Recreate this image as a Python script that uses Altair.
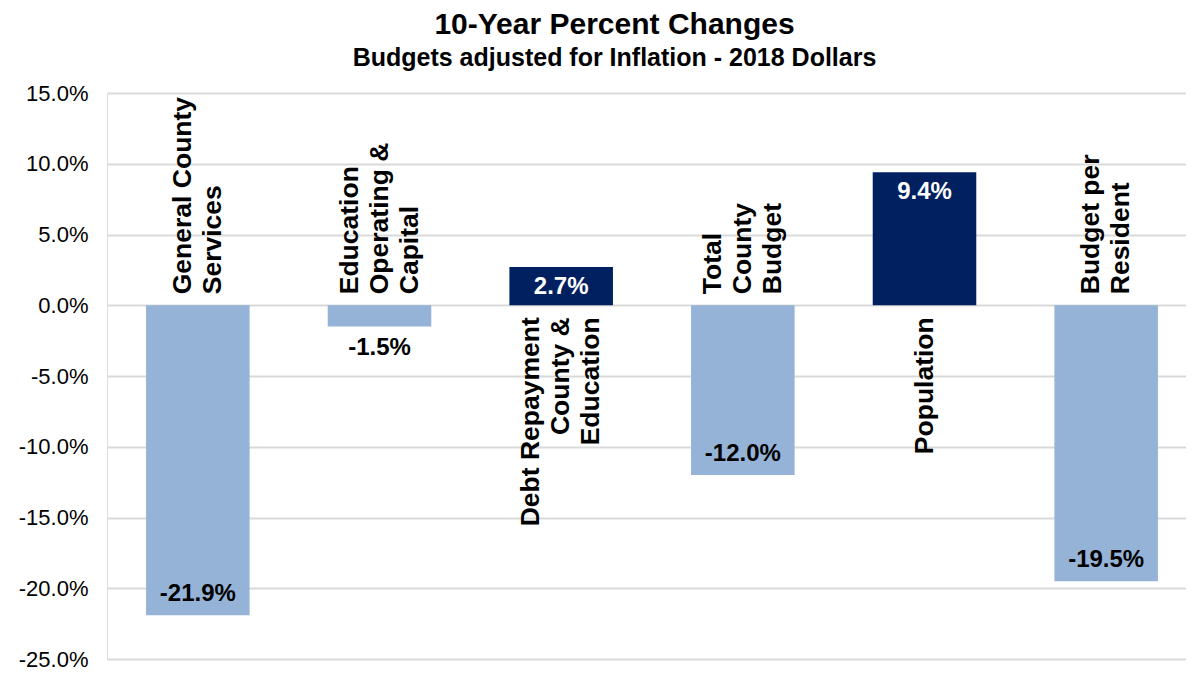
import altair as alt
import pandas as pd

categories = [
    "General County Services",
    "Education Operating & Capital",
    "Debt Repayment County & Education",
    "Total County Budget",
    "Population",
    "Budget per Resident",
]
category_lines = [
    "General County\nServices",
    "Education\nOperating &\nCapital",
    "Debt Repayment\nCounty &\nEducation",
    "Total\nCounty\nBudget",
    "Population",
    "Budget per\nResident",
]
values = [-0.219, -0.015, 0.027, -0.120, 0.094, -0.195]
y_ticks = [-0.25, -0.20, -0.15, -0.10, -0.05, 0.0, 0.05, 0.10, 0.15]

df = pd.DataFrame({"cat": categories, "label": category_lines, "value": values})

FONT = "Liberation Sans"
LIGHT = "#95B3D7"
DARK = "#002060"
LINE_H = 30

base = alt.Chart(df).transform_calculate(
    vlabel="replace(format(datum.value, '.1%'), '\u2212', '-')",
    nlines="length(split(datum.label, '\\n'))",
)

x_enc = alt.X("cat:N", sort=categories, axis=None,
              scale=alt.Scale(paddingInner=0.43, paddingOuter=0.215, range=[0, 1090]))
y_scale = alt.Scale(domain=[-0.25, 0.15], nice=False, zero=False)

bars = base.mark_bar().encode(
    x=x_enc,
    y=alt.Y("value:Q", scale=y_scale,
            axis=alt.Axis(values=y_ticks, title=None,
                          labelExpr="replace(format(datum.value, '.1%'), '\u2212', '-')",
                          labelFont=FONT, labelFontSize=22, labelColor="black",
                          labelPadding=19, domain=False, ticks=False,
                          grid=True, gridColor="#d9d9d9", gridWidth=2)),
    color=alt.condition("datum.value > 0", alt.value(DARK), alt.value(LIGHT)),
)

cat_layers = []
for n in (1, 2, 3):
    shift = -(n - 1) * LINE_H / 2
    cat_layers.append(
        base.transform_filter(f"datum.value < 0 && datum.nlines == {n}").mark_text(
            angle=270, align="left", baseline="middle", dx=11, dy=shift,
            font=FONT, fontSize=26.5, fontWeight="bold", lineHeight=LINE_H,
            lineBreak="\n", color="black",
        ).encode(x=x_enc, y=alt.datum(0), text="label:N")
    )
    cat_layers.append(
        base.transform_filter(f"datum.value > 0 && datum.nlines == {n}").mark_text(
            angle=270, align="right", baseline="middle", dx=-12, dy=shift,
            font=FONT, fontSize=26.5, fontWeight="bold", lineHeight=LINE_H,
            lineBreak="\n", color="black",
        ).encode(x=x_enc, y=alt.datum(0), text="label:N")
    )

val_neg_in = base.transform_filter("datum.value <= -0.02").mark_text(
    align="center", baseline="middle", dy=-21,
    font=FONT, fontSize=24, fontWeight="bold", color="black",
).encode(x=x_enc, y="value:Q", text="vlabel:N")

val_neg_out = base.transform_filter("datum.value < 0 && datum.value > -0.02").mark_text(
    align="center", baseline="middle", dy=22,
    font=FONT, fontSize=24, fontWeight="bold", color="black",
).encode(x=x_enc, y="value:Q", text="vlabel:N")

val_pos_in = base.transform_filter("datum.value > 0").mark_text(
    align="center", baseline="middle", dy=20,
    font=FONT, fontSize=24, fontWeight="bold", color="white",
).encode(x=x_enc, y="value:Q", text="vlabel:N")

chart = alt.layer(
    bars, *cat_layers, val_neg_in, val_neg_out, val_pos_in
).properties(
    width=1079,
    height=566,
    autosize=alt.AutoSizeParams(type="none"),
    padding={"left": 99, "top": 85, "right": 0, "bottom": 11},
    title=alt.TitleParams(
        text="10-Year Percent Changes",
        subtitle="Budgets adjusted for Inflation - 2018 Dollars",
        font=FONT, subtitleFont=FONT,
        fontSize=30, subtitleFontSize=25,
        fontWeight="bold", subtitleFontWeight="bold",
        color="black", subtitleColor="black",
        anchor="middle", dx=-32, offset=11, subtitlePadding=6,
    ),
).configure_view(stroke=None).configure(background="white")

chart.save("out.html", embed_options={"renderer": "svg", "actions": False})
